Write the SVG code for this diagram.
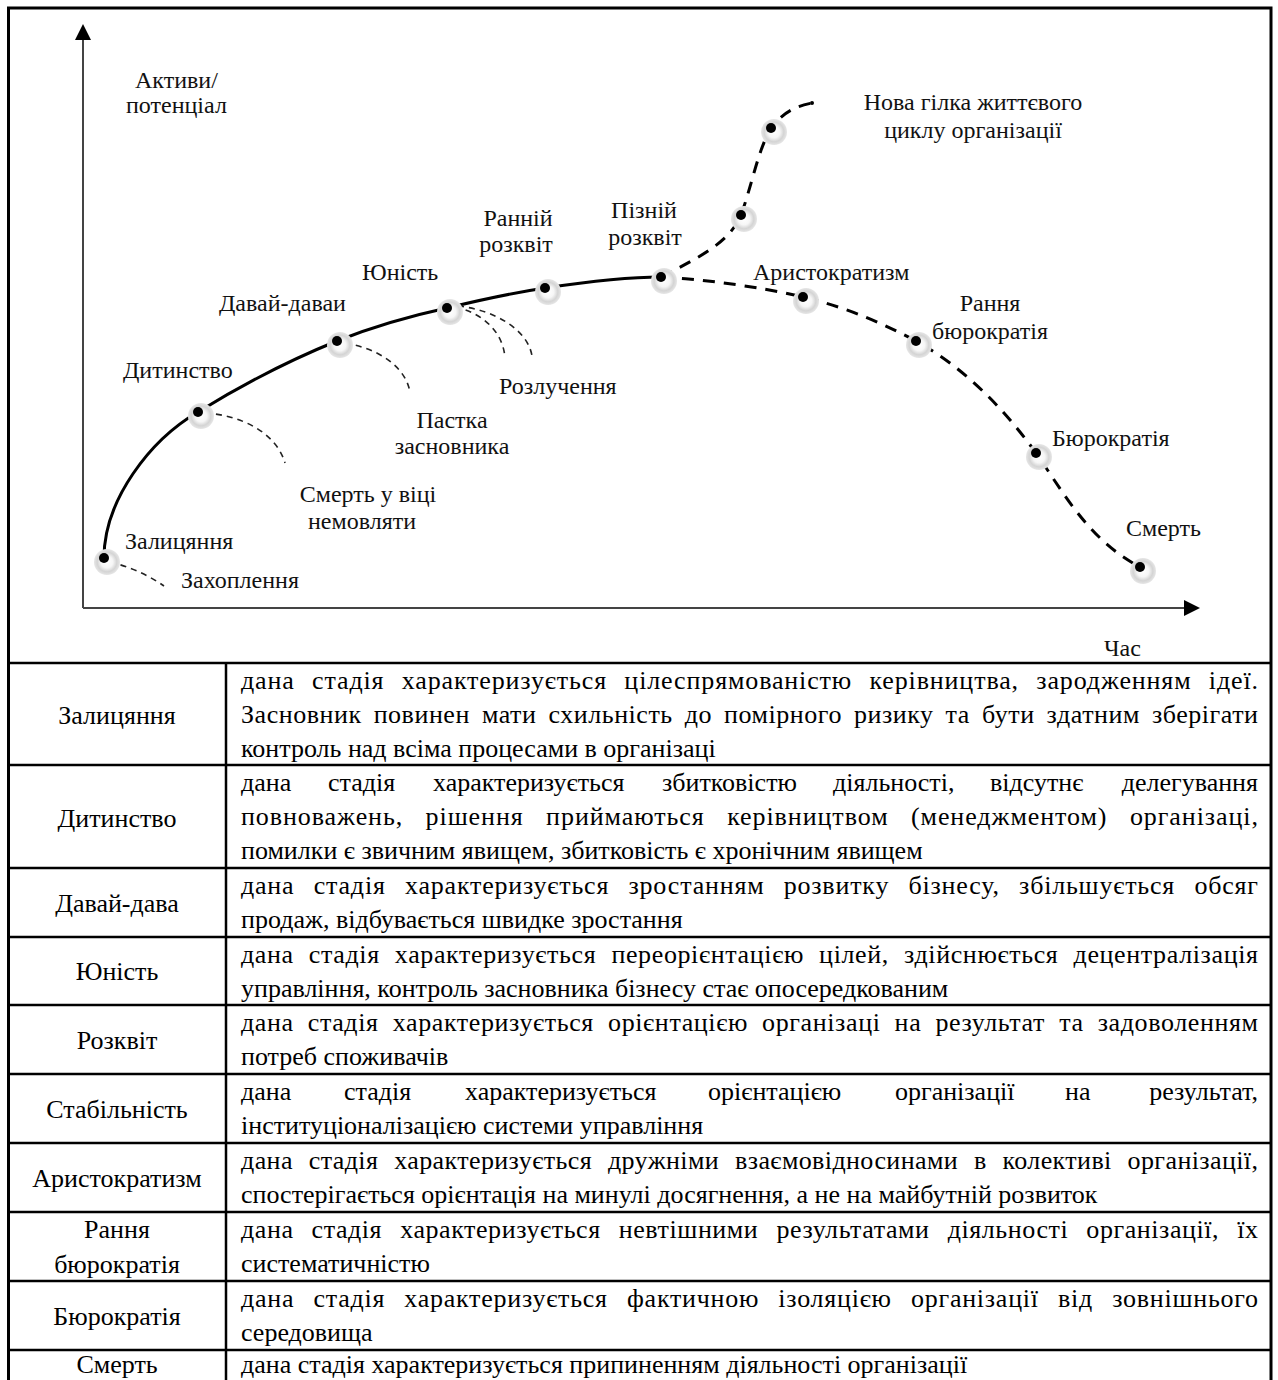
<svg xmlns="http://www.w3.org/2000/svg" width="1278" height="1380" viewBox="0 0 1278 1380">
<style>
.lbl{font-family:"Liberation Serif","Times New Roman",serif;font-size:24px;fill:#111}
.tc{font-family:"Liberation Serif","Times New Roman",serif;font-size:26px;fill:#000}
.mid{text-anchor:middle}
.end{text-anchor:end}
.axis{stroke:#444;stroke-width:2;fill:none}
.solid{stroke:#000;stroke-width:3;fill:none}
.thick{stroke:#000;stroke-width:3;fill:none;stroke-dasharray:12 9}
.thin{stroke:#222;stroke-width:1.6;fill:none;stroke-dasharray:6 5}
.grid{stroke:#000;stroke-width:2.5;fill:none}
</style>
<defs>
<radialGradient id="glow" cx="50%" cy="50%" r="50%">
<stop offset="0%" stop-color="#ffffff"/>
<stop offset="45%" stop-color="#f6f6f6"/>
<stop offset="75%" stop-color="#d4d4d4"/>
<stop offset="100%" stop-color="#e6e6e6"/>
</radialGradient>
<marker id="arr" viewBox="0 0 16 16" refX="2" refY="8" markerWidth="16" markerHeight="16" markerUnits="userSpaceOnUse" orient="auto">
<path d="M0,0 L16,8 L0,16 Z" fill="#000"/>
</marker>
<g id="nd"><circle cx="3" cy="4" r="13" fill="url(#glow)"/><circle cx="0" cy="0" r="5" fill="#000"/></g>
</defs>
<rect width="1278" height="1380" fill="#fff"/>
<rect x="8.5" y="8" width="1262.5" height="1400" fill="none" stroke="#000" stroke-width="3"/>

<g id="axes">
<line class="axis" x1="83" y1="608" x2="83" y2="38" marker-end="url(#arr)"/>
<line class="axis" x1="83" y1="608" x2="1186" y2="608" marker-end="url(#arr)"/>
<text class="lbl" x="135" y="88">Активи/</text>
<text class="lbl" x="126" y="113">потенціал</text>
<text class="lbl" x="1104" y="656">Час</text>
</g>

<g id="connectors">
<path class="solid" d="M104,558 C104,500 150,440 198,412 C245,383 290,360 337,341 C372,327 410,316 447,308 C480,300 512,293 545,288 C585,282 625,277 661,277"/>
<path class="thick" d="M661,277 C710,280 760,287 803,297 C845,307 880,322 916,341 C965,368 1005,410 1036,453 C1062,490 1088,540 1140,567"/>
<path class="thick" d="M661,277 C700,257 730,242 741,215 C752,185 758,150 771,128 C785,110 798,106 812,103"/>
<path class="thin" d="M110,562 C127,566 147,574 164,586"/>
<path class="thin" d="M205,413 C240,415 276,432 285,463"/>
<path class="thin" d="M345,343 C376,348 405,365 410,392"/>
<path class="thin" d="M455,307 C480,312 503,330 505,358"/>
<path class="thin" d="M458,306 C495,310 528,330 532,356"/>
</g>

<g id="n-zalytsiannia"><use href="#nd" x="104" y="558"/><text class="lbl" x="125" y="549">Залицяння</text><text class="lbl" x="181" y="588">Захоплення</text></g>
<g id="n-dytynstvo"><use href="#nd" x="198" y="412"/><text class="lbl" x="123" y="378">Дитинство</text><text class="lbl mid" x="368" y="502">Смерть у віці</text><text class="lbl mid" x="362" y="529">немовляти</text></g>
<g id="n-davai"><use href="#nd" x="337" y="341"/><text class="lbl" x="219" y="311">Давай-даваи</text><text class="lbl mid" x="452" y="428">Пастка</text><text class="lbl mid" x="452" y="454">засновника</text></g>
<g id="n-yunist"><use href="#nd" x="447" y="308"/><text class="lbl" x="362" y="280">Юність</text><text class="lbl" x="499" y="394">Розлучення</text></g>
<g id="n-rannii"><use href="#nd" x="545" y="288"/><text class="lbl mid" x="518" y="226">Ранній</text><text class="lbl mid" x="516" y="252">розквіт</text></g>
<g id="n-piznii"><use href="#nd" x="661" y="277"/><text class="lbl mid" x="644" y="218">Пізній</text><text class="lbl mid" x="645" y="245">розквіт</text></g>
<g id="n-aryst"><use href="#nd" x="803" y="297"/><text class="lbl" x="753" y="280">Аристократизм</text></g>
<g id="n-rannia"><use href="#nd" x="916" y="341"/><text class="lbl mid" x="990" y="311">Рання</text><text class="lbl mid" x="990" y="339">бюрократія</text></g>
<g id="n-biur"><use href="#nd" x="1036" y="453"/><text class="lbl" x="1052" y="446">Бюрократія</text></g>
<g id="n-smert"><use href="#nd" x="1140" y="567"/><text class="lbl" x="1126" y="536">Смерть</text></g>
<g id="n-nova"><use href="#nd" x="741" y="215"/><use href="#nd" x="771" y="128"/><circle cx="812" cy="103" r="2" fill="#000"/><text class="lbl mid" x="973" y="110">Нова гілка життєвого</text><text class="lbl mid" x="973" y="138">циклу організації</text></g>

<g id="table">
<line class="grid" x1="8.5" y1="663" x2="1271" y2="663"/>
<line class="grid" x1="226" y1="663" x2="226" y2="1380"/>
<line class="grid" x1="8.5" y1="765" x2="1271" y2="765"/>
<line class="grid" x1="8.5" y1="868" x2="1271" y2="868"/>
<line class="grid" x1="8.5" y1="937" x2="1271" y2="937"/>
<line class="grid" x1="8.5" y1="1005" x2="1271" y2="1005"/>
<line class="grid" x1="8.5" y1="1074" x2="1271" y2="1074"/>
<line class="grid" x1="8.5" y1="1143" x2="1271" y2="1143"/>
<line class="grid" x1="8.5" y1="1212" x2="1271" y2="1212"/>
<line class="grid" x1="8.5" y1="1281" x2="1271" y2="1281"/>
<line class="grid" x1="8.5" y1="1350" x2="1271" y2="1350"/>

<text class="tc mid" x="117" y="724">Залицяння</text>
<text class="tc" x="241" y="689" word-spacing="10" textLength="1017" lengthAdjust="spacing">дана стадія характеризується цілеспрямованістю керівництва, зародженням ідеї.</text>
<text class="tc" x="241" y="723" word-spacing="5" textLength="1017" lengthAdjust="spacing">Засновник повинен мати схильність до помірного ризику та бути здатним зберігати</text>
<text class="tc" x="241" y="757">контроль над всіма процесами в організаці</text>

<text class="tc mid" x="117" y="827">Дитинство</text>
<text class="tc" y="791"><tspan x="241">дана</tspan><tspan x="328">стадія</tspan><tspan x="433">характеризується</tspan><tspan x="662">збитковістю</tspan><tspan x="833">діяльності,</tspan><tspan x="990">відсутнє</tspan></text>
<text class="tc end" x="1258" y="791">делегування</text>
<text class="tc" x="241" y="825" word-spacing="15" textLength="1017" lengthAdjust="spacing">повноважень, рішення приймаються керівництвом (менеджментом) організаці,</text>
<text class="tc" x="241" y="859">помилки є звичним явищем, збитковість є хронічним явищем</text>

<text class="tc mid" x="117" y="912">Давай-дава</text>
<text class="tc" x="241" y="894" word-spacing="12" textLength="1017" lengthAdjust="spacing">дана стадія характеризується зростанням розвитку бізнесу, збільшується обсяг</text>
<text class="tc" x="241" y="928">продаж, відбувається швидке зростання</text>

<text class="tc mid" x="117" y="980">Юність</text>
<text class="tc" x="241" y="963" word-spacing="8" textLength="1017" lengthAdjust="spacing">дана стадія характеризується переорієнтацією цілей, здійснюється децентралізація</text>
<text class="tc" x="241" y="997">управління, контроль засновника бізнесу стає опосередкованим</text>

<text class="tc mid" x="117" y="1049">Розквіт</text>
<text class="tc" x="241" y="1031" word-spacing="7" textLength="1017" lengthAdjust="spacing">дана стадія характеризується орієнтацією організаці на результат та задоволенням</text>
<text class="tc" x="241" y="1065">потреб споживачів</text>

<text class="tc mid" x="117" y="1118">Стабільність</text>
<text class="tc" y="1100"><tspan x="241">дана</tspan><tspan x="344">стадія</tspan><tspan x="465">характеризується</tspan><tspan x="708">орієнтацією</tspan><tspan x="895">організації</tspan><tspan x="1065">на</tspan></text>
<text class="tc end" x="1258" y="1100">результат,</text>
<text class="tc" x="241" y="1134">інституціоналізацією системи управління</text>

<text class="tc mid" x="117" y="1187">Аристократизм</text>
<text class="tc" x="241" y="1169" word-spacing="9" textLength="1017" lengthAdjust="spacing">дана стадія характеризується дружніми взаємовідносинами в колективі організації,</text>
<text class="tc" x="241" y="1203">спостерігається орієнтація на минулі досягнення, а не на майбутній розвиток</text>

<text class="tc mid" x="117" y="1238">Рання</text>
<text class="tc mid" x="117" y="1273">бюрократія</text>
<text class="tc" x="241" y="1238" word-spacing="11" textLength="1017" lengthAdjust="spacing">дана стадія характеризується невтішними результатами діяльності організації, їх</text>
<text class="tc" x="241" y="1272">систематичністю</text>

<text class="tc mid" x="117" y="1325">Бюрократія</text>
<text class="tc" x="241" y="1307" word-spacing="12" textLength="1017" lengthAdjust="spacing">дана стадія характеризується фактичною ізоляцією організації від зовнішнього</text>
<text class="tc" x="241" y="1341">середовища</text>

<text class="tc mid" x="117" y="1373">Смерть</text>
<text class="tc" x="241" y="1373">дана стадія характеризується припиненням діяльності організації</text>
</g>
</svg>
